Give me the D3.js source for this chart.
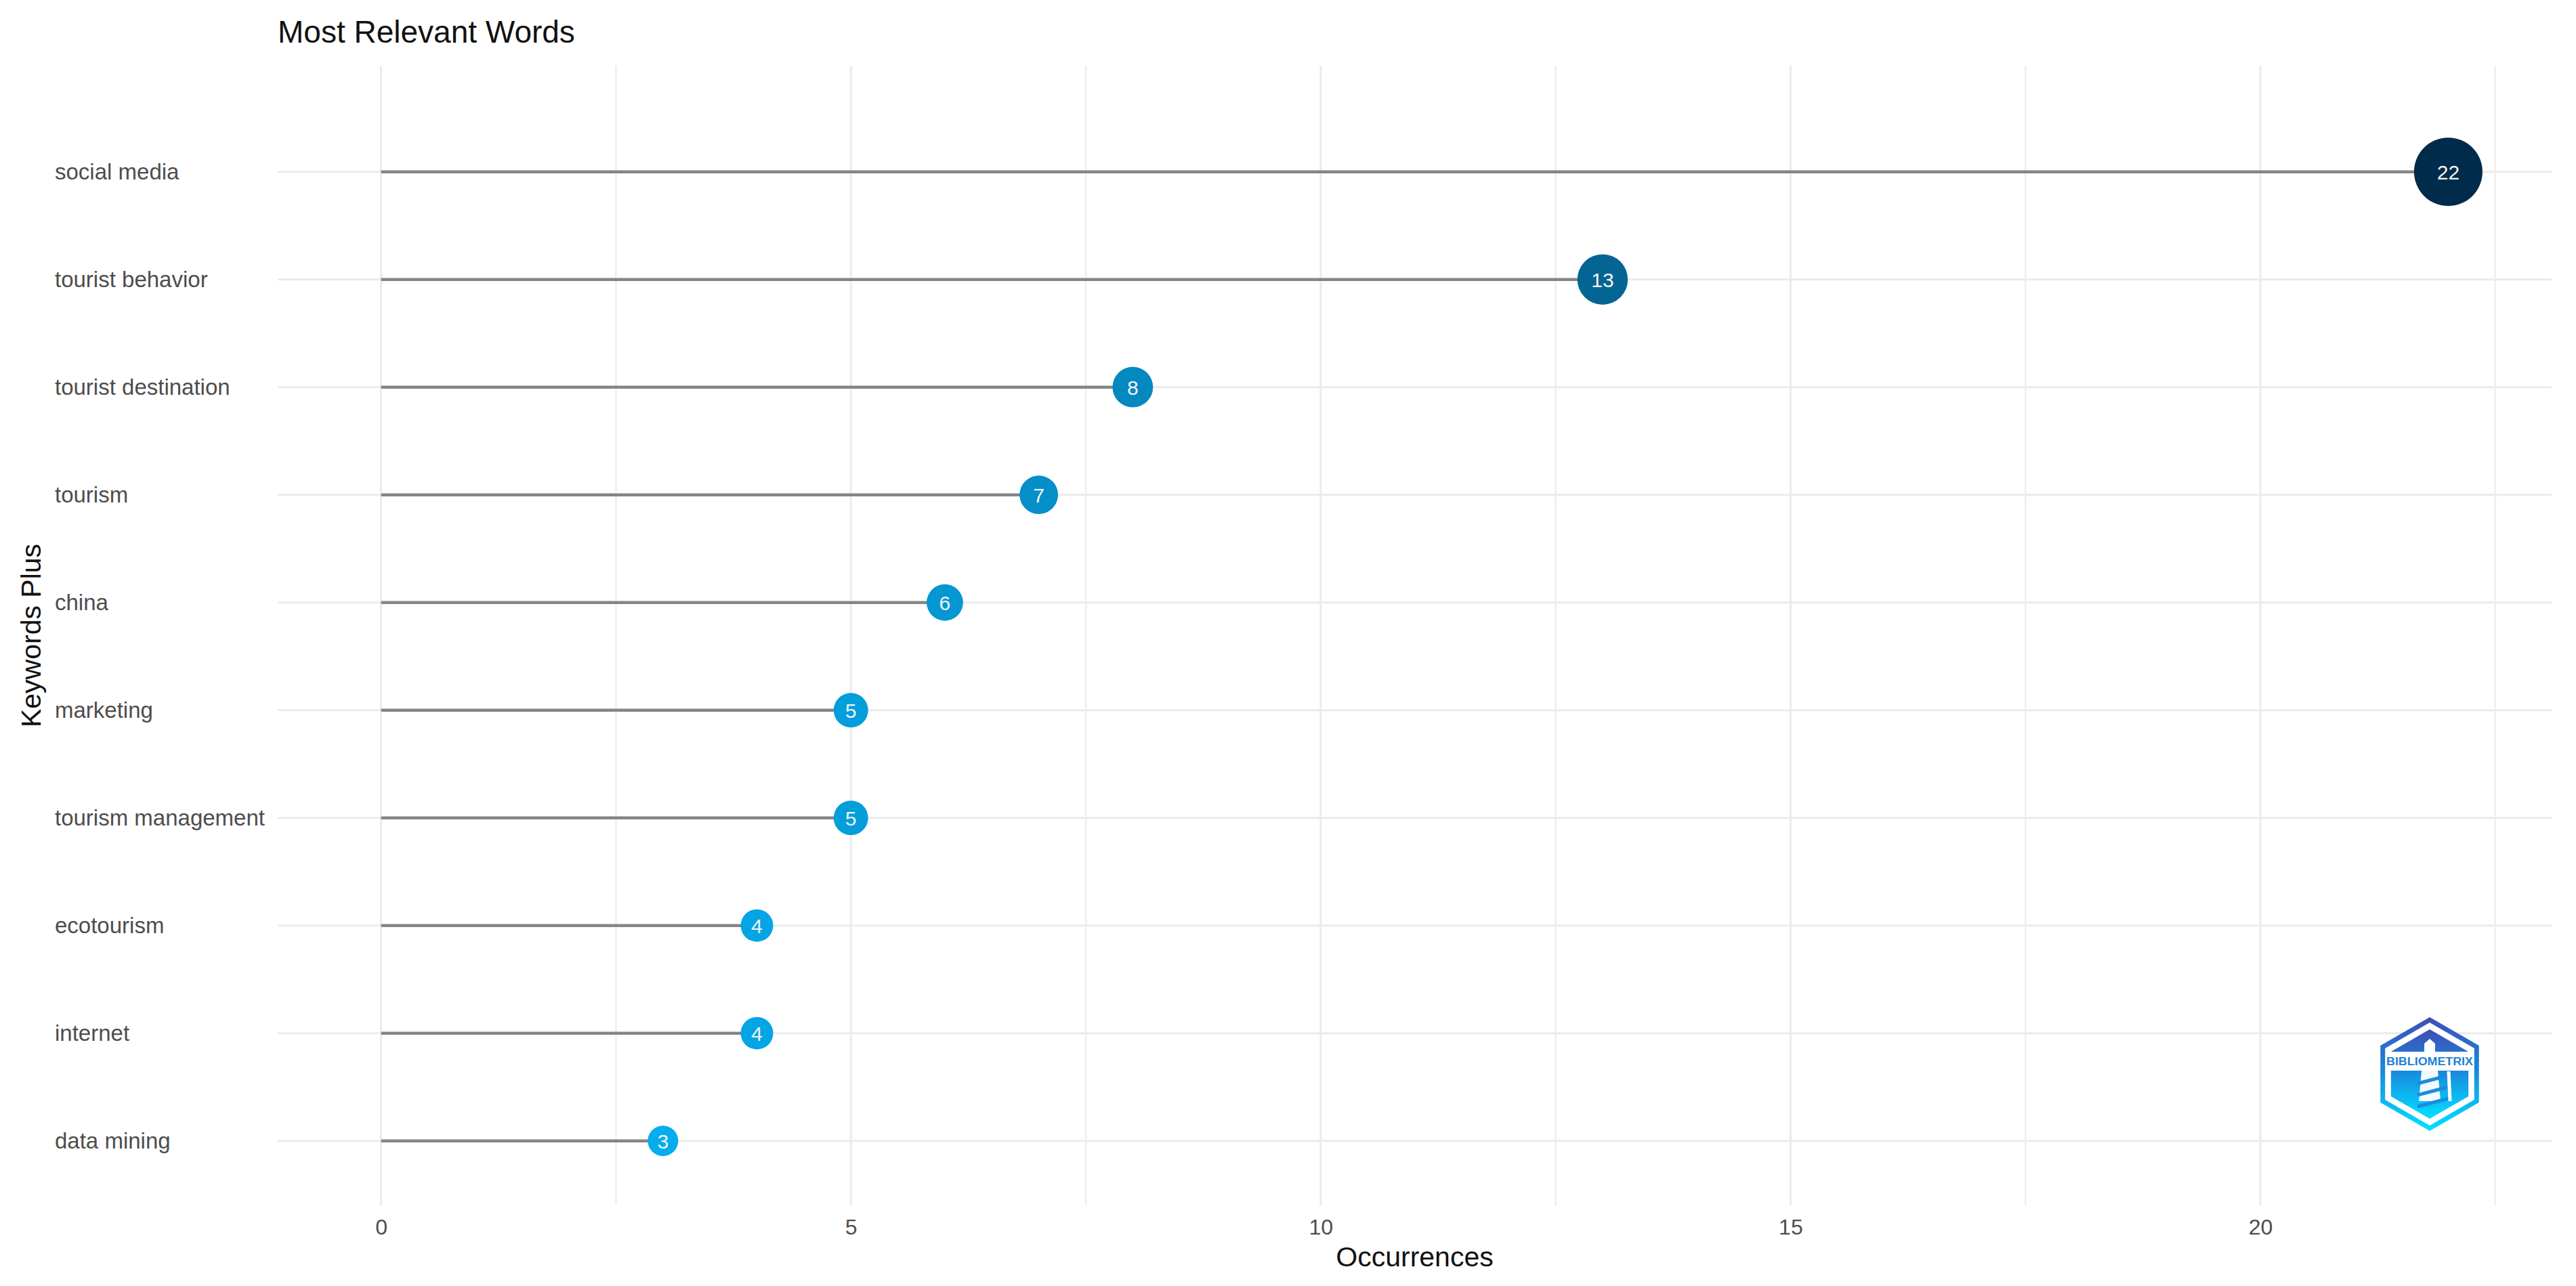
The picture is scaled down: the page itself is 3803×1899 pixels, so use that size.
<!DOCTYPE html>
<html><head><meta charset="utf-8">
<script src="https://cdn.jsdelivr.net/npm/d3@7"></script>
<style>
body{margin:0;background:#fff}
svg{display:block}
text{font-family:"Liberation Sans", Arial, Helvetica, sans-serif}
</style>
</head><body>
<svg id="c" width="3803" height="1899"></svg>
<script>
const terms = ["social media","tourist behavior","tourist destination","tourism","china","marketing","tourism management","ecotourism","internet","data mining"];
const occurrences = [22,13,8,7,6,5,5,4,4,3];
const xTicks = [0,5,10,15,20];
const xMinorTicks = [2.5,7.5,12.5,17.5,22.5];
const titleText = "Most Relevant Words";
const xTitle = "Occurrences";
const yTitle = "Keywords Plus";

const W = 3803, H = 1899;
const panel = {left:410, right:3767, top:97, bottom:1780};
const svg = d3.select("#c");

const x = d3.scaleLinear().domain([-1.1, 23.1]).range([panel.left, panel.right]);
const y = d3.scalePoint().domain(terms).range([253.7, 1684.7]);
const rScale = d3.scaleLinear().domain([0, 22]).range([18.1, 50.5]);
const color = d3.scaleLinear().domain([3, 22]).range(["#04ADEE", "#012B4B"]).interpolate(d3.interpolateLab);

const data = terms.map((t,i)=>({term:t, value:occurrences[i]}));

// grid
const grid = svg.append("g");
grid.selectAll(".hg").data(terms).join("line")
  .attr("x1", panel.left).attr("x2", panel.right)
  .attr("y1", d=>y(d)).attr("y2", d=>y(d))
  .attr("stroke", "#ebebeb").attr("stroke-width", 3);
grid.selectAll(".vmin").data(xMinorTicks).join("line")
  .attr("x1", d=>x(d)).attr("x2", d=>x(d))
  .attr("y1", panel.top).attr("y2", panel.bottom)
  .attr("stroke", "#eeeeee").attr("stroke-width", 2.5);
grid.selectAll(".vmaj").data(xTicks).join("line")
  .attr("x1", d=>x(d)).attr("x2", d=>x(d))
  .attr("y1", panel.top).attr("y2", panel.bottom)
  .attr("stroke", "#ebebeb").attr("stroke-width", 3);

// segments
svg.append("g").selectAll("line").data(data).join("line")
  .attr("x1", x(0)).attr("x2", d=>x(d.value))
  .attr("y1", d=>y(d.term)).attr("y2", d=>y(d.term))
  .attr("stroke", "#858585").attr("stroke-width", 4.5);

// points
svg.append("g").selectAll("circle").data(data).join("circle")
  .attr("cx", d=>x(d.value)).attr("cy", d=>y(d.term))
  .attr("r", d=>rScale(d.value))
  .attr("fill", d=>color(d.value));

svg.append("g").selectAll("text").data(data).join("text")
  .attr("x", d=>x(d.value)).attr("y", d=>y(d.term))
  .attr("dy", "0.36em")
  .attr("text-anchor", "middle")
  .attr("font-size", 30)
  .attr("fill", "#f4f4f4")
  .text(d=>d.value);

// x axis
const xa = svg.append("g").attr("transform", `translate(0,${panel.bottom})`)
  .call(d3.axisBottom(x).tickValues(xTicks).tickSize(0).tickPadding(20).tickFormat(d3.format("d")));
xa.select(".domain").remove();
xa.selectAll("text").attr("font-size", 32).attr("fill", "#4d4d4d")
  .style("font-family", '"Liberation Sans", Arial, sans-serif');

// y axis (left-aligned labels)
const ya = svg.append("g").attr("transform", "translate(81,0)")
  .call(d3.axisLeft(y).tickSize(0).tickPadding(0));
ya.select(".domain").remove();
ya.selectAll("text").attr("text-anchor", "start").attr("x", 0)
  .attr("font-size", 33).attr("fill", "#4d4d4d")
  .style("font-family", '"Liberation Sans", Arial, sans-serif');

// titles
svg.append("text").attr("x", panel.left).attr("y", 63)
  .attr("font-size", 46).attr("fill", "#111").text(titleText);
svg.append("text").attr("x", (panel.left+panel.right)/2).attr("y", 1870)
  .attr("text-anchor", "middle").attr("font-size", 41).attr("fill", "#111").text(xTitle);
svg.append("text").attr("transform", `translate(46,${(panel.top+panel.bottom)/2}) rotate(-90)`)
  .attr("dy", "0.35em").attr("text-anchor", "middle").attr("font-size", 41).attr("fill", "#111").text(yTitle);

// logo
const defs = svg.append("defs");
const lg = defs.append("linearGradient").attr("id","lg").attr("x1",0).attr("y1",0).attr("x2",0).attr("y2",1);
lg.append("stop").attr("offset","0%").attr("stop-color","#3f4fb4");
lg.append("stop").attr("offset","45%").attr("stop-color","#1a86dc");
lg.append("stop").attr("offset","100%").attr("stop-color","#00e2ff");
const cx = 3587, cy = 1586;
function hex(R){
  const pts=[];
  for(let k=0;k<6;k++){const a=Math.PI/180*(60*k-90);pts.push([cx+R*Math.cos(a), cy+R*Math.sin(a)]);}
  return pts.map(p=>p.join(",")).join(" ");
}
const logo = svg.append("g");
logo.append("polygon").attr("points", hex(84)).attr("fill","url(#lg)");
logo.append("polygon").attr("points", hex(76)).attr("fill","#fff");
logo.append("polygon").attr("points", hex(66)).attr("fill","url(#lg)");
logo.append("rect").attr("x", cx-64).attr("y", cy-33).attr("width",128).attr("height",28).attr("fill","#fff");
logo.append("text").attr("x", cx).attr("y", cy-13).attr("text-anchor","middle")
  .attr("font-size",16).attr("font-weight","bold").attr("fill","#1f7fd8")
  .attr("textLength",128).attr("lengthAdjust","spacingAndGlyphs").text("BIBLIOMETRIX");
// lighthouse
logo.append("polygon").attr("points",`${cx-8},${cy-33} ${cx-8},${cy-45} ${cx},${cy-52} ${cx+8},${cy-45} ${cx+8},${cy-33}`).attr("fill","#fff");
logo.append("polygon").attr("points",`${cx-12},${cy-5} ${cx+12},${cy-5} ${cx+16},${cy+40} ${cx-16},${cy+40}`).attr("fill","#fff").attr("opacity",0.95);
[[0,8],[1,25],[2,42]].forEach(([i,dy])=>{
  logo.append("line").attr("x1",cx-18).attr("y1",cy+dy+6).attr("x2",cx+28).attr("y2",cy+dy-6)
    .attr("stroke","#1a8ce0").attr("stroke-width",5);
});
logo.append("line").attr("x1",cx+28).attr("y1",cy-4).attr("x2",cx+30).attr("y2",cy+40).attr("stroke","#fff").attr("stroke-width",5);
</script>
</body></html>
